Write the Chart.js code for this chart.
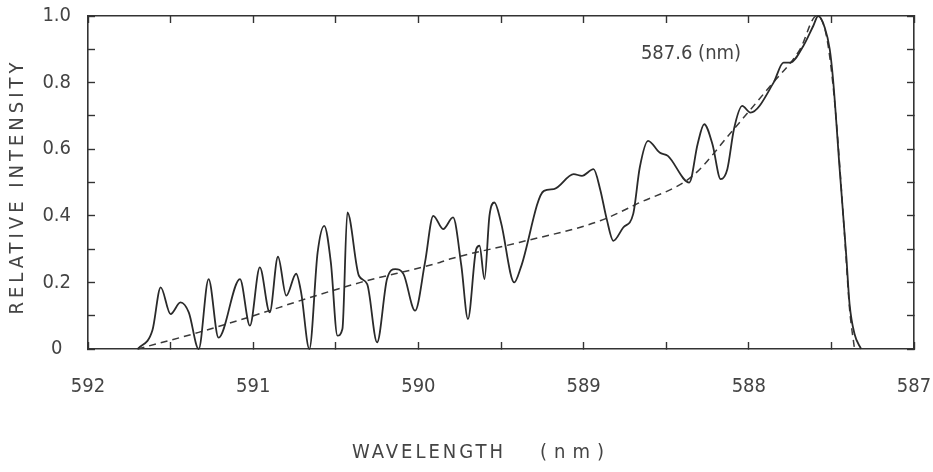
<!DOCTYPE html>
<html>
<head>
<meta charset="utf-8">
<script src="https://cdn.jsdelivr.net/npm/chart.js@4.4.1/dist/chart.umd.min.js"></script>
<style>
    html, body { margin: 0; padding: 0; background: #fff; }
    #wrap { width: 933px; height: 472px; position: relative; }
</style>
</head>
<body>
<div id="wrap"><canvas id="chart-1"></canvas></div>
<script>
// measured spectrum (solid line)
var wavelength = [591.70, 591.61, 591.56, 591.50, 591.44, 591.39, 591.33, 591.27, 591.21, 591.08,
    591.02, 590.96, 590.90, 590.85, 590.80, 590.74, 590.71, 590.66, 590.61, 590.57,
    590.53, 590.49, 590.46, 590.43, 590.36, 590.31, 590.25, 590.19, 590.14, 590.09,
    590.02, 589.96, 589.91, 589.85, 589.79, 589.74, 589.70, 589.65, 589.63, 589.60,
    589.57, 589.54, 589.50, 589.42, 589.38, 589.24, 589.18, 589.06, 589.01,
    588.94, 588.90, 588.86, 588.82, 588.76, 588.70, 588.66, 588.61, 588.54, 588.49,
    588.36, 588.31, 588.27, 588.22, 588.17, 588.13, 588.09, 588.04, 587.99, 587.85,
    587.79, 587.75, 587.67, 587.61, 587.58, 587.54, 587.51, 587.49, 587.45, 587.41,
    587.39, 587.36, 587.32];
var intensity = [0, 0.056, 0.185, 0.105, 0.14, 0.11, 0.0, 0.21, 0.034, 0.21,
    0.07, 0.245, 0.11, 0.277, 0.16, 0.226, 0.17, 0.0, 0.29, 0.37,
    0.26, 0.04, 0.06, 0.41, 0.22, 0.195, 0.02, 0.21, 0.24, 0.225,
    0.115, 0.26, 0.40, 0.36, 0.395, 0.25, 0.09, 0.30, 0.31, 0.21,
    0.40, 0.44, 0.38, 0.20, 0.245, 0.475, 0.48, 0.525, 0.52,
    0.54, 0.48, 0.39, 0.325, 0.365, 0.405, 0.545, 0.625, 0.59, 0.58,
    0.50, 0.615, 0.675, 0.615, 0.51, 0.54, 0.66, 0.73, 0.71, 0.80,
    0.86, 0.86, 0.91, 0.97, 1.0, 0.965, 0.90, 0.81, 0.54, 0.28,
    0.135, 0.045, 0];

// smooth envelope (dashed line)
var fitWavelength = [591.70, 591.33, 590.84, 590.78, 590.35, 589.87, 589.81, 589.39, 588.90, 588.68,
    588.34, 588.10, 587.87, 587.69, 587.59, 587.53, 587.48, 587.42, 587.39, 587.36];
var fitIntensity = [0, 0.05, 0.125, 0.135, 0.20, 0.26, 0.27, 0.32, 0.385, 0.435,
    0.52, 0.655, 0.79, 0.90, 1.0, 0.94, 0.74, 0.34, 0.12, 0];

var xTickLabels = ['587', '588', '589', '590', '591', '592'];
var yTickLabels = ['0', '0.2', '0.4', '0.6', '0.8', '1.0'];
var peakLabel = '587.6 (nm)';
var xTitle = ['WAVELENGTH', '(nm)'];
var yTitle = 'RELATIVE INTENSITY';

var FONT = '"DejaVu Sans Condensed", "Liberation Sans Narrow", sans-serif';
var INK = '#333';

function toPoints(xs, ys) {
    return xs.map(function (x, i) { return { x: x, y: ys[i] }; });
}

// axis titles and the peak note
var textPlugin = {
    id: 'spectrumText',
    afterDraw: function (chart) {
        var ctx = chart.ctx, area = chart.chartArea;
        ctx.save();
        ctx.fillStyle = '#444';
        ctx.textBaseline = 'middle';
        ctx.font = '20px ' + FONT;

        ctx.textAlign = 'center';
        ctx.letterSpacing = '0px';
        ctx.fillText(peakLabel, 691, 54);

        ctx.textAlign = 'left';
        ctx.letterSpacing = '3px';
        ctx.fillText(xTitle[0], 352, 453);
        ctx.letterSpacing = '7px';
        ctx.fillText(xTitle[1], 540, 453);

        ctx.textAlign = 'center';
        ctx.translate(18, (area.top + area.bottom) / 2 + 4);
        ctx.rotate(-Math.PI / 2);
        ctx.letterSpacing = '4px';
        ctx.fillText(yTitle, 0, 0);
        ctx.restore();
    }
};

// fixed axis box sizes, no extra room for overhanging labels
function fixBox(w, h) {
    return function (s) {
        if (w != null) s.width = w;
        if (h != null) s.height = h;
        s.paddingLeft = s.paddingRight = s.paddingTop = s.paddingBottom = 0;
    };
}

function renderChart() {
    var frame = { display: true, color: INK, width: 1.6 };
    var inwardTicks = {
        drawOnChartArea: false, drawTicks: true, tickLength: -7,
        tickColor: INK, tickWidth: 1.4
    };

    new Chart(document.getElementById('chart-1'), {
        type: 'line',
        data: {
            datasets: [{
                data: toPoints(wavelength, intensity),
                borderColor: '#2a2a2a',
                borderWidth: 1.8,
                pointRadius: 0,
                cubicInterpolationMode: 'monotone',
                clip: 4
            }, {
                data: toPoints(fitWavelength, fitIntensity),
                borderColor: '#3a3a3a',
                borderWidth: 1.5,
                borderDash: [7, 5],
                pointRadius: 0,
                cubicInterpolationMode: 'monotone',
                clip: 4
            }]
        },
        options: {
            responsive: true,
            maintainAspectRatio: false,
            animation: false,
            layout: { padding: 0 },
            plugins: {
                legend: { display: false },
                tooltip: { enabled: false }
            },
            scales: {
                x: {
                    type: 'linear', position: 'bottom', reverse: true,
                    min: 587, max: 592,
                    border: frame, grid: inwardTicks,
                    ticks: {
                        stepSize: 0.5, padding: 33, color: '#444',
                        font: { family: FONT, size: 20 },
                        maxRotation: 0, autoSkip: false,
                        callback: function (v) {
                            var i = xTickLabels.indexOf(String(v));
                            return i < 0 ? '' : xTickLabels[i];
                        }
                    },
                    afterFit: fixBox(null, 123)
                },
                xTop: {
                    type: 'linear', position: 'top', reverse: true,
                    min: 587, max: 592,
                    border: frame, grid: inwardTicks,
                    ticks: { stepSize: 0.5, display: false },
                    afterFit: fixBox(null, 16)
                },
                y: {
                    type: 'linear', position: 'left',
                    min: 0, max: 1,
                    border: frame, grid: inwardTicks,
                    ticks: {
                        stepSize: 0.1, padding: 24, color: '#444',
                        crossAlign: 'center',
                        font: { family: FONT, size: 20 },
                        callback: function (v) {
                            var n = Math.round(v * 10);
                            return n % 2 === 0 ? yTickLabels[n / 2] : '';
                        }
                    },
                    afterFit: fixBox(88, null)
                },
                yRight: {
                    type: 'linear', position: 'right',
                    min: 0, max: 1,
                    border: frame, grid: inwardTicks,
                    ticks: { stepSize: 0.1, display: false },
                    afterFit: fixBox(19, null)
                }
            }
        },
        plugins: [textPlugin]
    });
}

renderChart();
</script>
</body>
</html>
